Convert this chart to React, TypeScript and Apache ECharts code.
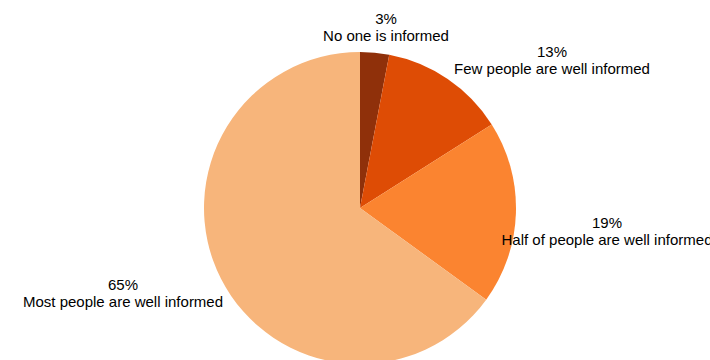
import React, { useEffect, useRef } from "react";
import * as echarts from "echarts";

const categories = [
  "No one is informed",
  "Few people are well informed",
  "Half of people are well informed",
  "Most people are well informed",
];
const shares = [3, 13, 19, 65];
const colors = ["#8f300a", "#de4c05", "#fb8430", "#f7b57b"];
const labelX = [386, 552, 607, 123];
const labelY = [27, 60, 231, 293];

export default function App() {
  const ref = useRef<HTMLDivElement>(null);
  useEffect(() => {
    document.body.style.margin = "0";
    const chart = echarts.init(ref.current!, null, { renderer: "svg" });
    chart.setOption({
      animation: false,
      backgroundColor: "#ffffff",
      series: [
        {
          type: "pie",
          center: [360, 208],
          radius: 156,
          startAngle: 90,
          clockwise: true,
          avoidLabelOverlap: false,
          itemStyle: { borderWidth: 0 },
          emphasis: { disabled: true },
          label: {
            show: true,
            position: "outside",
            fontFamily: "Liberation Sans, Arial, sans-serif",
            fontSize: 15,
            lineHeight: 17,
            color: "#000000",
            align: "center",
            formatter: (p: any) => `${p.value}%\n${p.name}`,
          },
          labelLine: { show: false },
          labelLayout: (p: any) => ({
            x: labelX[p.dataIndex],
            y: labelY[p.dataIndex],
            align: "center",
            verticalAlign: "middle",
          }),
          data: categories.map((name, i) => ({
            name,
            value: shares[i],
            itemStyle: { color: colors[i] },
          })),
        },
      ],
    });
    return () => chart.dispose();
  }, []);
  return <div ref={ref} style={{ width: 710, height: 360 }} />;
}
